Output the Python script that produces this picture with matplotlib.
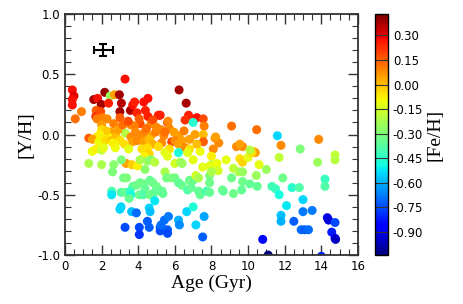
import matplotlib
matplotlib.use("Agg")
import matplotlib.pyplot as plt
import numpy as np
from matplotlib.ticker import MultipleLocator, FormatStrFormatter

# (age [Gyr], [Y/H], [Fe/H])
stars = [
    # high [Y/H] group
    (3.28, 0.46, 0.27), (0.40, 0.37, 0.27), (0.49, 0.32, 0.30), (0.40, 0.29, 0.27),
    (0.40, 0.245, 0.27), (0.56, 0.13, 0.12), (0.90, 0.19, 0.10), (2.17, 0.35, 0.40),
    (1.57, 0.29, 0.38), (1.78, 0.30, 0.27), (2.47, 0.32, -0.25), (2.70, 0.33, 0.05),
    (2.97, 0.33, 0.38), (1.98, 0.25, 0.38), (2.38, 0.26, 0.25), (3.08, 0.26, 0.36),
    (3.00, 0.19, 0.38), (3.57, 0.20, 0.37), (3.70, 0.245, 0.27), (3.80, 0.27, 0.25),
    (3.93, 0.18, 0.25), (4.30, 0.27, 0.27), (4.53, 0.30, 0.27), (4.39, 0.20, 0.25),
    (4.53, 0.15, 0.25), (5.10, 0.16, 0.25), (6.23, 0.37, 0.38), (6.62, 0.26, 0.38),
    (6.75, 0.16, 0.25), (6.56, 0.12, 0.22), (7.20, 0.14, 0.27), (7.00, 0.10, -0.45),
    (7.55, 0.13, 0.18), (7.60, 0.07, 0.10), (9.10, 0.07, 0.12), (10.47, 0.04, 0.13),
    (5.20, 0.16, 0.25), (5.60, 0.10, 0.18), (1.70, 0.20, 0.15), (1.68, 0.15, 0.22),
    (1.95, 0.19, 0.18), (1.75, 0.13, 0.10), (2.05, 0.14, 0.10), (2.00, 0.08, 0.05),
    (2.66, 0.09, 0.10), (4.10, 0.09, 0.18), (3.60, 0.08, 0.08), (3.80, 0.07, 0.10),
    (4.70, 0.09, 0.08), (4.80, 0.12, 0.18), (5.63, 0.11, 0.08), (2.30, 0.13, 0.08),
    (3.00, 0.14, 0.15),
    # around zero
    (3.30, 0.01, -0.20), (2.00, 0.04, -0.05), (2.50, 0.02, 0.05), (1.75, -0.02, -0.05),
    (2.10, -0.02, 0.05), (2.35, -0.02, -0.08), (2.80, -0.02, 0.00), (1.30, -0.03, 0.15),
    (1.50, -0.04, 0.05), (1.85, -0.06, -0.10), (2.20, -0.05, -0.05), (2.55, -0.05, 0.00),
    (3.00, -0.05, -0.05), (3.60, -0.02, 0.08), (3.85, 0.02, 0.08), (4.20, 0.00, 0.08),
    (4.40, 0.03, 0.10), (4.70, -0.01, 0.05), (4.95, 0.02, 0.10), (5.25, 0.04, 0.08),
    (5.40, -0.01, 0.08), (5.70, 0.05, 0.08), (5.95, 0.02, 0.05), (6.20, -0.01, 0.05),
    (6.50, 0.03, 0.10), (6.80, -0.04, 0.05), (7.10, 0.00, 0.05), (7.55, 0.00, 0.00),
    (3.70, -0.06, 0.05), (3.95, -0.05, 0.08), (4.30, -0.06, 0.05), (4.60, -0.04, 0.00),
    (5.28, -0.07, 0.08), (5.83, -0.06, 0.20), (6.00, -0.05, 0.08), (6.40, -0.05, 0.05),
    (6.56, -0.11, 0.08), (6.80, -0.12, -0.05), (7.38, -0.14, -0.10), (7.56, -0.06, 0.15),
    (8.10, -0.12, 0.08), (8.20, -0.03, 0.08), (8.40, -0.07, 0.08), (9.37, -0.10, 0.08),
    (9.70, -0.10, 0.08), (9.55, -0.08, 0.05), (10.30, -0.14, -0.05), (10.40, -0.15, 0.05),
    (11.80, -0.09, 0.08), (11.60, -0.01, -0.55), (13.86, -0.04, 0.08), (8.23, -0.02, 0.05),
    (2.25, 0.03, -0.02), (2.90, 0.04, 0.05), (3.15, 0.08, 0.12), (3.45, 0.11, 0.18),
    (4.05, 0.13, 0.15), (4.45, 0.05, 0.12), (5.00, 0.06, 0.08), (5.45, 0.02, 0.12),
    (1.90, 0.00, -0.08), (2.70, -0.08, -0.10), (3.25, -0.08, -0.05), (4.80, -0.08, 0.02),
    (5.10, -0.10, -0.05), (6.20, -0.08, 0.05), (7.20, -0.08, 0.00), (5.70, -0.12, -0.05),
    # yellow band
    (1.48, -0.14, -0.10), (1.70, -0.12, -0.08), (2.00, -0.13, -0.18), (2.10, -0.11, -0.12),
    (2.75, -0.11, -0.10), (2.60, -0.07, -0.08), (3.48, -0.12, -0.12), (4.20, -0.12, -0.05),
    (4.50, -0.11, -0.05), (4.60, -0.16, -0.03), (4.35, -0.18, -0.08), (5.46, -0.15, -0.12),
    (5.60, -0.18, -0.12), (6.20, -0.15, -0.48), (6.70, -0.15, -0.12), (7.00, -0.21, -0.12),
    (8.00, -0.18, -0.08), (8.80, -0.21, -0.12), (9.55, -0.20, -0.05), (9.70, -0.23, -0.03),
    (10.00, -0.19, -0.12), (10.20, -0.15, -0.05), (10.10, -0.13, -0.20), (11.70, -0.19, -0.18),
    (12.85, -0.12, -0.30), (13.80, -0.23, -0.25), (14.75, -0.17, -0.18), (14.75, -0.21, -0.20),
    (3.34, -0.24, 0.05), (3.65, -0.25, -0.02), (3.96, -0.26, -0.08), (3.08, -0.21, -0.30),
    (1.30, -0.24, -0.22), (2.00, -0.25, -0.22), (2.66, -0.25, -0.28), (4.10, -0.21, -0.22),
    (4.50, -0.22, -0.25), (4.70, -0.21, -0.28), (4.90, -0.23, -0.20), (6.00, -0.24, -0.15),
    (6.30, -0.23, -0.22), (6.40, -0.24, -0.25), (7.52, -0.27, -0.12), (8.00, -0.25, -0.20),
    (8.30, -0.24, -0.10), (7.90, -0.26, -0.12), (10.60, -0.25, -0.12), (9.20, -0.28, -0.18),
    (8.37, -0.30, -0.15),
    # green band
    (2.60, -0.31, -0.30), (3.20, -0.36, -0.32), (3.36, -0.36, -0.30), (4.37, -0.29, -0.28),
    (5.46, -0.31, -0.22), (5.55, -0.36, -0.32), (5.83, -0.36, -0.30), (6.00, -0.36, -0.32),
    (6.38, -0.42, -0.33), (6.20, -0.40, -0.35), (6.80, -0.38, -0.33), (7.00, -0.38, -0.33),
    (7.15, -0.34, -0.15), (7.30, -0.36, -0.22), (7.90, -0.34, -0.30), (7.90, -0.40, -0.33),
    (8.00, -0.31, -0.22), (9.10, -0.36, -0.33), (9.50, -0.31, -0.22), (9.70, -0.31, -0.25),
    (9.70, -0.39, -0.33), (10.45, -0.34, -0.25), (11.00, -0.29, -0.25), (11.90, -0.36, -0.33),
    (14.20, -0.37, -0.42), (14.20, -0.43, -0.38), (4.10, -0.40, -0.33), (4.30, -0.41, -0.33),
    (4.64, -0.38, -0.35), (4.80, -0.40, -0.33), (5.00, -0.43, -0.33), (4.37, -0.45, -0.35),
    (3.70, -0.43, -0.35), (3.90, -0.42, -0.33), (2.55, -0.47, -0.40), (3.06, -0.48, -0.38),
    (3.28, -0.48, -0.35), (3.55, -0.47, -0.42), (3.60, -0.50, -0.48), (3.50, -0.53, -0.35),
    (4.06, -0.50, -0.33), (4.27, -0.50, -0.38), (4.64, -0.50, -0.33), (4.90, -0.48, -0.35),
    (5.30, -0.47, -0.33), (5.35, -0.49, -0.35), (5.28, -0.47, -0.35), (6.70, -0.46, -0.38),
    (6.90, -0.44, -0.35), (7.38, -0.50, -0.35), (7.30, -0.47, -0.35), (7.74, -0.47, -0.40),
    (7.90, -0.48, -0.35), (8.60, -0.46, -0.33), (8.65, -0.47, -0.35), (9.20, -0.49, -0.33),
    (9.65, -0.46, -0.35), (10.10, -0.41, -0.35), (10.50, -0.43, -0.35), (11.30, -0.43, -0.40),
    (11.50, -0.45, -0.42), (11.70, -0.50, -0.48), (12.40, -0.44, -0.45), (12.80, -0.44, -0.38),
    # metal-poor tail
    (2.55, -0.50, -0.52), (3.00, -0.62, -0.55), (3.06, -0.60, -0.55), (3.64, -0.64, -0.58),
    (3.90, -0.65, -0.70), (3.28, -0.77, -0.75), (4.06, -0.77, -0.75), (4.06, -0.83, -0.78),
    (4.50, -0.72, -0.72), (4.60, -0.77, -0.72), (4.60, -0.61, -0.55), (4.65, -0.64, -0.58),
    (4.90, -0.55, -0.52), (5.20, -0.77, -0.72), (5.20, -0.80, -0.75), (5.25, -0.75, -0.70),
    (5.43, -0.71, -0.70), (5.65, -0.68, -0.68), (5.60, -0.79, -0.72), (5.60, -0.82, -0.75),
    (6.20, -0.71, -0.60), (6.25, -0.75, -0.65), (6.65, -0.64, -0.55), (7.00, -0.60, -0.47),
    (7.15, -0.75, -0.55), (7.60, -0.68, -0.62), (7.52, -0.85, -0.72), (12.10, -0.59, -0.52),
    (11.80, -0.67, -0.58), (11.80, -0.72, -0.60), (13.00, -0.54, -0.55), (13.00, -0.64, -0.68),
    (13.50, -0.63, -0.68), (12.50, -0.72, -0.72), (12.90, -0.79, -0.70), (13.10, -0.79, -0.72),
    (13.30, -0.79, -0.70), (10.80, -0.87, -0.85), (11.10, -1.00, -1.04), (14.33, -0.69, -0.90),
    (14.40, -0.71, -0.92), (14.75, -0.73, -0.75), (14.57, -0.81, -0.82), (14.75, -0.86, -0.88),
    (14.78, -0.87, -0.95), (14.00, -1.01, -0.80),
]
age = [s[0] for s in stars]
yh = [s[1] for s in stars]
feh = [s[2] for s in stars]

# typical uncertainty marker
err_age, err_yh = 2.1, 0.70
err_x, err_y = 0.5, 0.05

cbar_ticks = [-0.90, -0.75, -0.60, -0.45, -0.30, -0.15, 0.00, 0.15, 0.30]
serif = "Liberation Serif"

fig = plt.figure(figsize=(4.63, 3.04), dpi=100)
ax = fig.add_axes([0.1404, 0.161, 0.6326, 0.793])
cax = fig.add_axes([0.810, 0.161, 0.028, 0.793])

sc = ax.scatter(age, yh, c=feh, cmap="jet", vmin=-1.04, vmax=0.43,
                s=42, linewidths=0, zorder=2)
ax.errorbar([err_age], [err_yh], xerr=err_x, yerr=err_y, fmt="none",
            ecolor="black", elinewidth=1.5, capsize=3, capthick=1.5)

ax.set_xlim(0, 16)
ax.set_ylim(-1.0, 1.0)
ax.xaxis.set_major_locator(MultipleLocator(2))
ax.xaxis.set_minor_locator(MultipleLocator(0.5))
ax.yaxis.set_major_locator(MultipleLocator(0.5))
ax.yaxis.set_minor_locator(MultipleLocator(0.1))
ax.yaxis.set_major_formatter(FormatStrFormatter("%.1f"))
ax.tick_params(which="both", direction="in", top=True, right=True,
               labelsize=8.5, color="#333333")
ax.tick_params(which="major", length=7, width=1)
ax.tick_params(which="minor", length=4, width=0.8)
for sp in ax.spines.values():
    sp.set_linewidth(1.3)
    sp.set_color("#333333")

ax.set_xlabel("Age (Gyr)", family=serif, fontsize=14, labelpad=1)
ax.set_ylabel("[Y/H]", family=serif, fontsize=14, labelpad=2)

cb = fig.colorbar(sc, cax=cax, ticks=cbar_ticks, format="%.2f")
cb.outline.set_linewidth(1.0)
cax.tick_params(direction="in", length=9.5, width=0.8, color="#333333",
                labelsize=8.5)
cb.set_label("[Fe/H]", family=serif, fontsize=14, labelpad=2)

fig.savefig("out.png", dpi=100)
